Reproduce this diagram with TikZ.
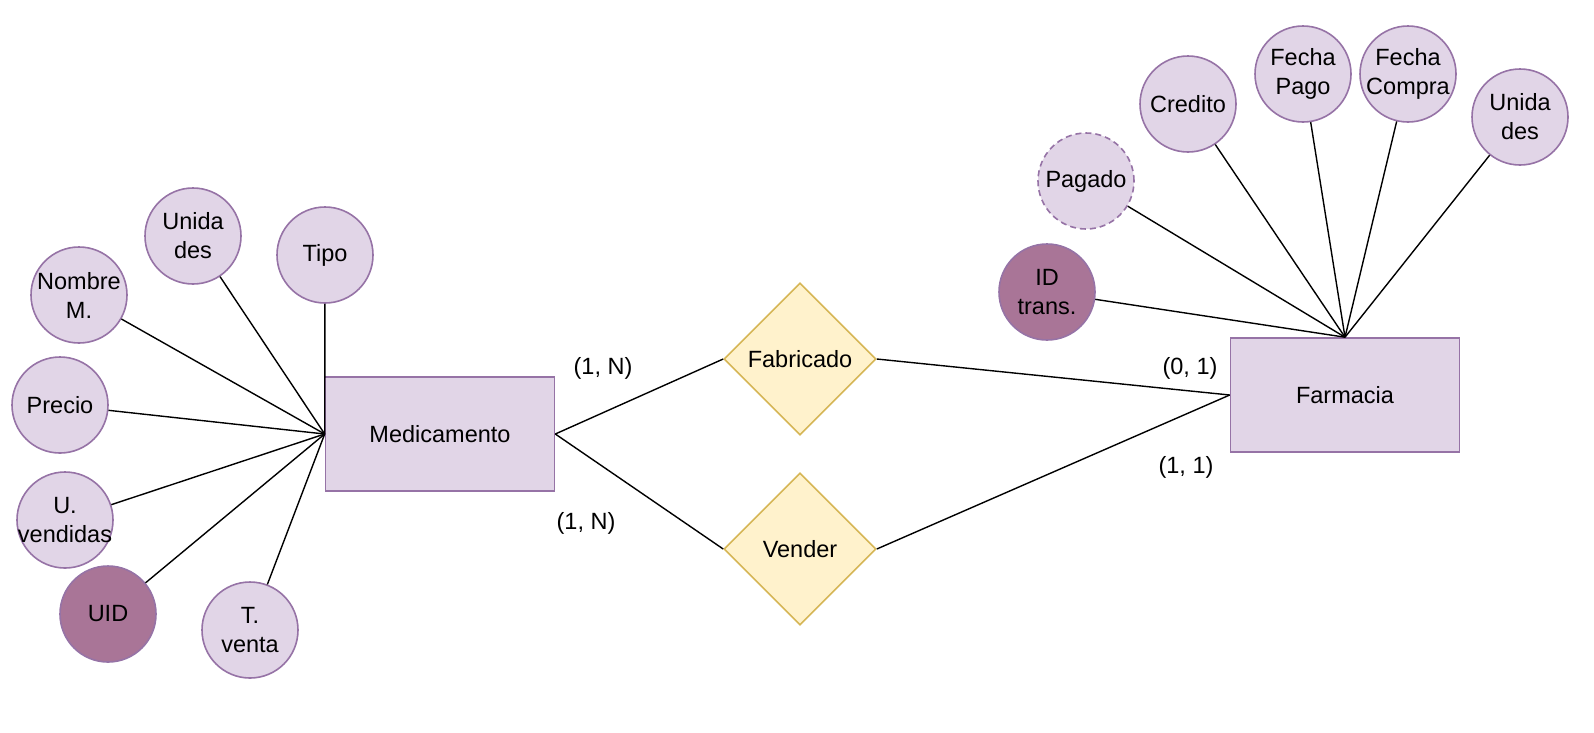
\documentclass[tikz,border=0pt]{standalone}
\usepackage{fontspec}
\setmainfont{Liberation Sans}
\definecolor{AttrFill}{HTML}{E1D5E7}
\definecolor{AttrLine}{HTML}{9673A6}
\definecolor{KeyFill}{RGB}{169,117,151}
\definecolor{RelFill}{HTML}{FFF2CC}
\definecolor{RelLine}{HTML}{D6B656}
\usetikzlibrary{shapes.geometric, positioning}

\begin{document}
\begin{tikzpicture}[x=1pt, y=-1pt,
    every node/.style={font=\fontsize{23.5}{29}\selectfont},
    entity/.style={draw=AttrLine, fill=AttrFill, line width=1.6pt,
                   minimum width=229pt, minimum height=114pt},
    relation/.style={diamond, draw=RelLine, fill=RelFill, line width=1.6pt,
                     minimum size=152pt, inner sep=0pt},
    attr/.style={circle, draw=AttrLine, fill=AttrFill, line width=1.6pt,
                 minimum size=96pt, inner sep=0pt,
                 label={[align=center]center:#1}},
    keyattr/.style={attr={#1}, fill=KeyFill},
    link/.style={line width=1.4pt}]

  \useasboundingbox (0,0) rectangle (1594,732);

  % entidades y relaciones
  \node[entity] (med) at (440,434) {Medicamento};
  \node[entity] (farm) at (1345,395) {Farmacia};
  \node[relation] (fab) at (800,359) {Fabricado};
  \node[relation] (ven) at (800,549) {Vender};

  % atributos de Medicamento
  \node[attr={Nombre\\M.}] (nom) at (79,295) {};
  \node[attr={Unida\\des}] (unim) at (193,236) {};
  \node[attr={Tipo}] (tipo) at (325,255) {};
  \node[attr={Precio}] (pre) at (60,405) {};
  \node[attr={U.\\vendidas}] (uven) at (65,520) {};
  \node[keyattr={UID}] (uid) at (108,614) {};
  \node[attr={T.\\venta}] (tven) at (250,630) {};

  % atributos de Farmacia
  \node[keyattr={ID\\trans.}] (idt) at (1047,292) {};
  \node[attr={Pagado}, dash pattern=on 6pt off 4pt] (pag) at (1086,181) {};
  \node[attr={Credito}] (cred) at (1188,104) {};
  \node[attr={Fecha\\Pago}] (fpag) at (1303,74) {};
  \node[attr={Fecha\\Compra}] (fcom) at (1408,74) {};
  \node[attr={Unida\\des}] (unif) at (1520,117) {};

  % cardinalidades
  \node (c1) at (603,368) {(1, N)};
  \node (c2) at (586,523) {(1, N)};
  \node (c3) at (1190,368) {(0, 1)};
  \node (c4) at (1186,467) {(1, 1)};

  \foreach \a in {nom, unim, tipo, pre, uven, uid, tven}
    \draw[link] (\a) -- (med.west);
  \foreach \a in {idt, pag, cred, fpag, fcom, unif}
    \draw[link] (\a) -- (farm.north);

  \draw[link] (med.east) -- (fab.west);
  \draw[link] (med.east) -- (ven.west);
  \draw[link] (fab.east) -- (farm.west);
  \draw[link] (ven.east) -- (farm.west);
\end{tikzpicture}
\end{document}
